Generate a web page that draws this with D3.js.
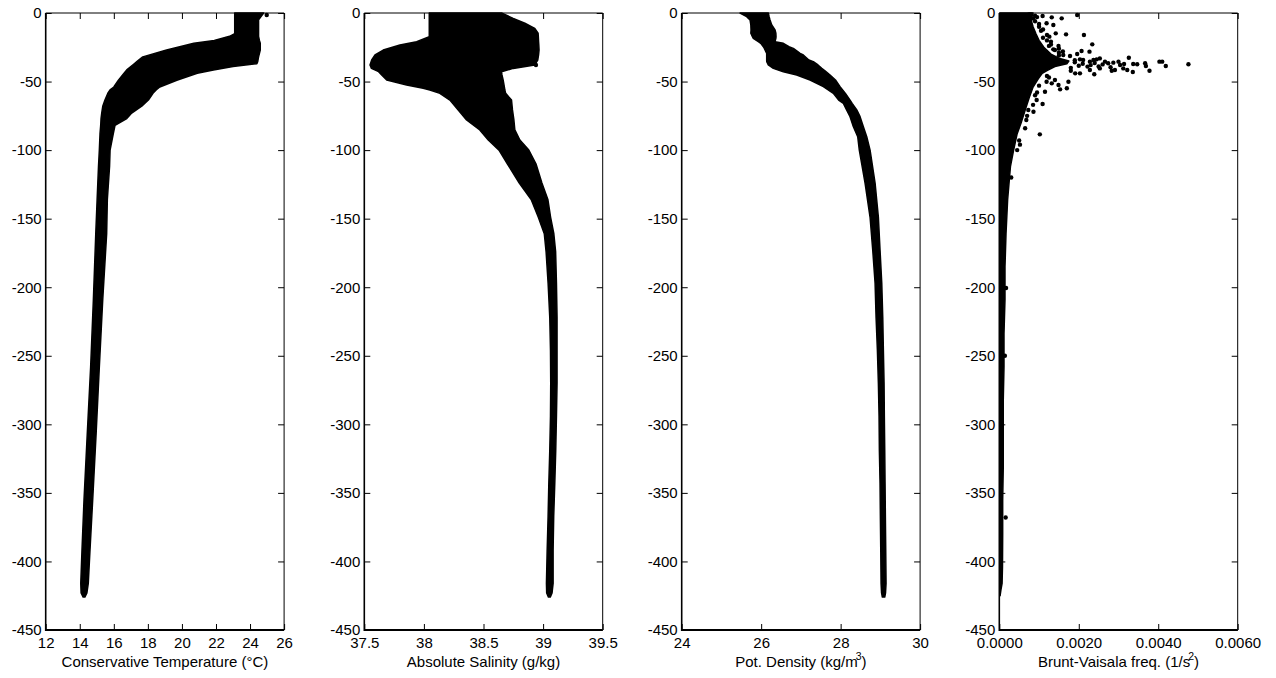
<!DOCTYPE html>
<html><head><meta charset="utf-8">
<script src="https://cdn.jsdelivr.net/npm/d3@7"></script>
<style>
body{margin:0;background:#fff}
svg{display:block}
text{font-family:Arial,"Liberation Sans",Helvetica,sans-serif;font-size:15px;fill:#000}
</style>
</head><body>
<svg id="c" width="1276" height="678"></svg>
<script>
// ---------- data ----------
const depthTicks = [0,-50,-100,-150,-200,-250,-300,-350,-400,-450];
const depthTickLabels = ["0","-50","-100","-150","-200","-250","-300","-350","-400","-450"];

// Conservative Temperature envelope (depth, min, max)
const tempDepth = [0,-5,-15,-17,-20,-22,-27,-32,-35.5,-37,-39,-41.5,-44,-49,-54,-56,-58.5,-63.5,-68,-73,-77,-82,-88,-100,-112,-136,-161,-209,-258,-307,-355,-392,-416,-423,-426];
const tempLo = [23.1,23.1,23.1,22.8,21.9,20.7,19.1,17.7,17.35,17.2,17.0,16.76,16.6,16.27,16.0,15.78,15.65,15.48,15.35,15.29,15.25,15.23,15.19,15.15,15.1,15.02,14.94,14.80,14.64,14.44,14.25,14.13,14.06,14.08,14.2];
const tempHi = [24.8,24.5,24.5,24.5,24.55,24.6,24.6,24.5,24.45,24.4,23.0,21.85,20.9,19.7,18.7,18.5,18.3,18.03,17.64,17.05,16.76,16.07,15.97,15.78,15.75,15.62,15.58,15.35,15.15,14.96,14.76,14.60,14.50,14.42,14.3];
const tempDotDepth = [-1.5];
const tempDotValue = [24.98];
const tempTicks = [12,14,16,18,20,22,24,26];
const tempTickLabels = ["12","14","16","18","20","22","24","26"];

// Absolute Salinity envelope
const salDepth = [0,-3.9,-7.5,-11.2,-14.8,-17.3,-20.9,-23.3,-27,-30.6,-34.3,-37.9,-40.4,-42.8,-45.2,-48.9,-52.5,-54.9,-56.2,-58.6,-63.5,-70.7,-78,-85.3,-92.6,-100,-110,-124,-136,-149,-161,-174,-197,-222,-246,-270,-294,-319,-343,-367,-392,-416,-423,-426];
const salLo = [38.045,38.045,38.045,38.045,38.045,38.045,37.939,37.799,37.659,37.59,37.562,37.548,37.56,37.62,37.646,37.688,37.855,37.994,38.05,38.134,38.218,38.288,38.358,38.469,38.54,38.63,38.70,38.80,38.9,38.96,39.01,39.025,39.042,39.056,39.062,39.064,39.062,39.056,39.048,39.042,39.034,39.028,39.03,39.045];
const salHi = [38.651,38.749,38.847,38.93,38.958,38.96,38.962,38.964,38.966,38.962,38.955,38.93,38.749,38.651,38.655,38.665,38.672,38.677,38.679,38.686,38.735,38.743,38.755,38.763,38.805,38.88,38.94,38.99,39.04,39.063,39.09,39.105,39.112,39.117,39.117,39.117,39.112,39.106,39.098,39.089,39.084,39.084,39.075,39.06];
const salDotDepth = [-37.9];
const salDotValue = [38.94];
const salTicks = [37.5,38,38.5,39,39.5];
const salTickLabels = ["37.5","38","38.5","39","39.5"];

// Potential density envelope
const denDepth = [0,-2.7,-5.1,-8.75,-12.4,-14.8,-17.3,-18.5,-20.9,-22.1,-24.6,-25.8,-29.4,-30.6,-34.3,-35.5,-37.9,-40.4,-42.8,-45.2,-48.9,-53.7,-58.6,-63.5,-65.9,-70.7,-75.6,-82.9,-90.2,-100,-124,-149,-173,-197,-222,-246,-270,-294,-319,-343,-367,-392,-416,-423,-426];
const denLo = [25.468,25.636,25.72,25.74,25.745,25.74,25.78,25.803,25.929,25.99,26.055,26.08,26.139,26.139,26.139,26.14,26.18,26.306,26.558,26.895,27.23,27.565,27.817,27.95,28.069,28.15,28.237,28.321,28.43,28.47,28.615,28.741,28.808,28.867,28.892,28.925,28.95,28.967,28.975,28.992,29.0,29.01,29.018,29.03,29.05];
const denHi = [26.18,26.2,26.223,26.266,26.349,26.37,26.374,26.37,26.349,26.558,26.7,26.81,26.98,27.061,27.2,27.313,27.43,27.525,27.63,27.734,27.87,27.985,28.12,28.237,28.29,28.406,28.489,28.572,28.657,28.741,28.867,28.95,28.992,29.035,29.06,29.076,29.093,29.10,29.11,29.118,29.126,29.135,29.143,29.13,29.11];
const denTicks = [24,26,28,30];
const denTickLabels = ["24","26","28","30"];

// Brunt-Vaisala frequency: dense core (0 .. max) and scattered points
const n2CoreDepth = [0,-5,-10,-15,-20,-25,-30,-33,-35,-37,-39,-42,-44,-48,-54,-62,-71,-80,-88,-100,-112,-136,-161,-185,-209,-234,-258,-282,-307,-331,-355,-380,-404,-416,-421,-425];
const n2CoreHi = [0.00085,0.0008,0.00085,0.00092,0.001,0.00112,0.0013,0.0015,0.00175,0.0017,0.0014,0.0012,0.00108,0.00098,0.00085,0.00075,0.00065,0.00055,0.00045,0.00036,0.00028,0.00021,0.000169,0.000143,0.000143,0.000118,0.000118,0.0001,0.0001,0.0001,0.000085,0.000085,0.00008,0.00007,0.00004,0.00002];
const n2DotDepth = [-2.19,-3.16,-3.89,-1.46,-7.53,-8.75,-14.83,-15.56,-16.05,-17.26,-22.85,-24.07,-26.5,-27.7,-28.2,-29.9,-31.4,-30.6,-33.1,-33.8,-34.3,-35.5,-34.3,-33.8,-35.5,-36.7,-36.2,-35.5,-37.9,-37.2,-32.6,-37.2,-37.4,-36.7,-38.7,-35.5,-35.5,-38.7,-37.4,-41.6,-42.1,-40.4,-41.6,-43.0,-42.1,-40.4,-44.7,-41.6,-39.1,-44.0,-44.0,-42.1,-50.1,-54.9,-55.7,-52.5,-48.9,-51.3,-50.1,-57.4,-66.4,-88.5,-72.0,-70.7,-84.1,-63.5,
  -36,-37,-38,-39,-36.5,-38.5,-40,-34.5,-37.5,-39.5,
  -200.6,-368,-250,-120,-100,
  -1,-2,-1,-4,-6,-10,-12,-18,-20,-23,-26,-28,
  -3,-8,-13,-16,-21,-24,-27,-29,-31,-46,-47,-53,-58,-60,-67,-75,-78,-93,-96];
const n2DotValue = [0.00109,0.00132,0.00157,0.00196,0.00119,0.00136,0.00142,0.00168,0.00213,0.00126,0.00234,0.00149,0.00136,0.00207,0.00227,0.00196,0.00178,0.00161,0.00253,0.00245,0.00237,0.00228,0.00211,0.00203,0.00266,0.00274,0.00287,0.0030,0.00304,0.00314,0.00326,0.00337,0.00347,0.00367,0.00369,0.00403,0.0041,0.00419,0.00476,0.00291,0.00283,0.00312,0.00322,0.00336,0.00378,0.00253,0.00239,0.00228,0.00222,0.00203,0.00191,0.0018,0.00174,0.0017,0.00153,0.00149,0.0014,0.00132,0.00119,0.00115,0.00109,0.00102,0.00086,0.00073,0.00065,0.00094,
  0.0019,0.0021,0.0023,0.0025,0.0024,0.0020,0.0018,0.0019,0.0026,0.0028,
  0.00017,0.00016,0.00014,0.0003,0.00045,
  0.0008,0.0009,0.00075,0.00085,0.0009,0.001,0.0011,0.0011,0.0012,0.0013,0.0015,0.0016,
  0.00095,0.001,0.00105,0.0012,0.0013,0.00125,0.0014,0.0015,0.0015,0.0012,0.00125,0.001,0.00095,0.0009,0.00085,0.0007,0.00068,0.0005,0.00052];
const n2Ticks = [0,0.002,0.004,0.006];
const n2TickLabels = ["0.0000","0.0020","0.0040","0.0060"];

// ---------- layout ----------
const svg = d3.select("#c");
const panelLeft = [45.7,364.3,681.7,999.3];
const panelW = 238.4, plotTop = 13, plotBottom = 630, tickLen = 6, dotR = 2.2, fontPx = 15.3;
const y = d3.scaleLinear().domain([0,-450]).range([plotTop,plotBottom]);

const panels = [
  {domain:[12,26], ticks:tempTicks, labels:tempTickLabels, band:{d:tempDepth, lo:tempLo, hi:tempHi}, dots:{d:tempDotDepth, v:tempDotValue}, title:[["Conservative Temperature (°C)"]]},
  {domain:[37.5,39.5], ticks:salTicks, labels:salTickLabels, band:{d:salDepth, lo:salLo, hi:salHi}, dots:{d:salDotDepth, v:salDotValue}, title:[["Absolute Salinity (g/kg)"]]},
  {domain:[24,30], ticks:denTicks, labels:denTickLabels, band:{d:denDepth, lo:denLo, hi:denHi}, dots:{d:[], v:[]}, title:[["Pot. Density (kg/m"],["3","sup"],[")"]]},
  {domain:[0,0.006], ticks:n2Ticks, labels:n2TickLabels, band:{d:n2CoreDepth, lo:n2CoreDepth.map(()=>0), hi:n2CoreHi}, dots:{d:n2DotDepth, v:n2DotValue}, title:[["Brunt-Vaisala freq. (1/s"],["2","sup"],[")"]]}
];

panels.forEach((p,i)=>{
  const x0 = panelLeft[i];
  const x = d3.scaleLinear().domain(p.domain).range([x0, x0+panelW]);
  const g = svg.append("g");
  const clipId = "clip"+i;
  svg.append("clipPath").attr("id",clipId).append("rect")
    .attr("x",x0).attr("y",plotTop-1).attr("width",panelW).attr("height",plotBottom-plotTop+1);

  const rows = p.band.d.map((d,k)=>({d:d, lo:p.band.lo[k], hi:p.band.hi[k]}));
  const area = d3.area().y(r=>y(r.d)).x0(r=>x(r.lo)).x1(r=>x(r.hi)).curve(d3.curveLinear);
  const data = g.append("g").attr("clip-path",`url(#${clipId})`);
  data.append("path").datum(rows).attr("d",area)
    .attr("fill","#000").attr("stroke","#000").attr("stroke-width",1.5).attr("stroke-linejoin","round");
  const dots = p.dots.d.map((d,k)=>({d:d, v:p.dots.v[k]}));
  data.selectAll("circle").data(dots).join("circle")
    .attr("cx",r=>x(r.v)).attr("cy",r=>y(r.d)).attr("r",dotR).attr("fill","#000");

  // axes (ticks inward on all sides)
  const axL = d3.axisLeft(y).tickValues(depthTicks).tickFormat((d,k)=>depthTickLabels[k]).tickSizeInner(-tickLen).tickSizeOuter(0).tickPadding(4);
  const axR = d3.axisRight(y).tickValues(depthTicks).tickFormat("").tickSizeInner(-tickLen).tickSizeOuter(0);
  const axB = d3.axisBottom(x).tickValues(p.ticks).tickFormat((d,k)=>p.labels[k]).tickSizeInner(-tickLen).tickSizeOuter(0).tickPadding(7);
  const axT = d3.axisTop(x).tickValues(p.ticks).tickFormat("").tickSizeInner(-tickLen).tickSizeOuter(0);

  const gl = g.append("g").attr("transform",`translate(${x0},0)`).call(axL);
  const gr = g.append("g").attr("transform",`translate(${x0+panelW},0)`).call(axR);
  const gb = g.append("g").attr("transform",`translate(0,${plotBottom})`).call(axB);
  const gt = g.append("g").attr("transform",`translate(0,${plotTop})`).call(axT);
  [gl,gr,gb,gt].forEach(a=>{
    a.select(".domain").remove();
    a.selectAll("text").attr("font-family",'Arial,"Liberation Sans",sans-serif').attr("font-size",fontPx).attr("fill","#000");
    a.selectAll("line").attr("stroke","#000");
  });
  // box
  g.append("line").attr("x1",x0).attr("x2",x0+panelW).attr("y1",plotBottom).attr("y2",plotBottom).attr("stroke","#000").attr("stroke-width",2);
  g.append("line").attr("x1",x0).attr("x2",x0).attr("y1",plotTop).attr("y2",plotBottom+1).attr("stroke","#000").attr("stroke-width",1.6);
  g.append("line").attr("x1",x0).attr("x2",x0+panelW).attr("y1",plotTop).attr("y2",plotTop).attr("stroke","#000").attr("stroke-width",1);
  g.append("line").attr("x1",x0+panelW).attr("x2",x0+panelW).attr("y1",plotTop).attr("y2",plotBottom).attr("stroke","#000").attr("stroke-width",1);

  // x axis title
  const t = g.append("text").attr("x",x0+panelW/2).attr("y",667).attr("text-anchor","middle").attr("font-size",fontPx);
  p.title.forEach((part,k)=>{
    const sp = t.append("tspan").text(part[0]);
    if(part[1]==="sup") sp.attr("font-size",10.5).attr("dy",-7).attr("dx",-2);
    else if(k>0) sp.attr("dy",7);
  });
});
</script>
</body></html>
